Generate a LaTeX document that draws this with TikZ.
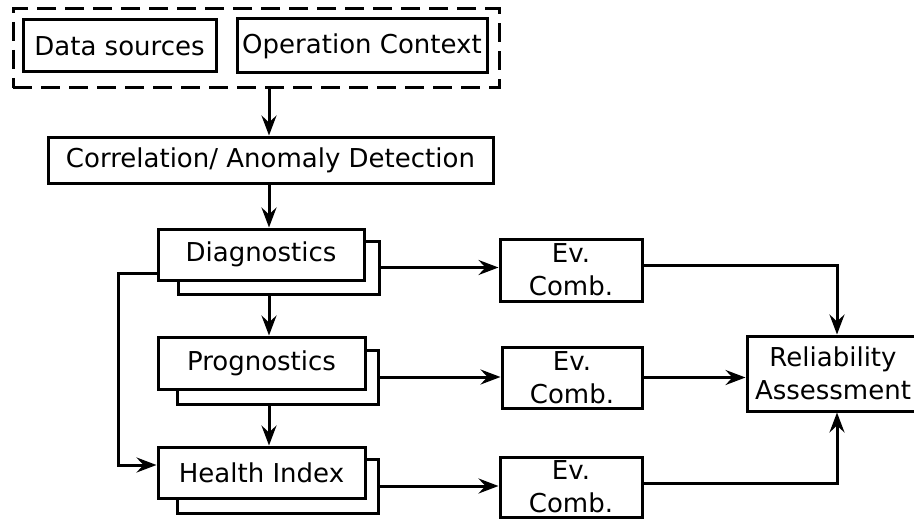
\documentclass[tikz,border=0pt]{standalone}
\usepackage{fontspec}
\setmainfont{DejaVu Sans}
\usetikzlibrary{arrows.meta}
\begin{document}
\begin{tikzpicture}[x=1pt,y=-1pt,
  every node/.style={font=\fontsize{26}{33}\selectfont},
  box/.style={draw=black, line width=3pt, fill=white, inner sep=0pt, align=center},
  grpbox/.style={draw=black, line width=3pt, dash pattern=on 19pt off 9pt, inner sep=0pt},
  arr/.style={draw=black, line width=3pt, -{Stealth[length=20pt,width=15pt,inset=7pt]}},
  line/.style={draw=black, line width=3pt}]
\useasboundingbox (0,0) rectangle (914,519);
\begin{scope}
\clip (0,0) rectangle (914,519);
% group
\node[grpbox, minimum width=486pt, minimum height=79pt] (grp) at (256,48.5) {};
\node[box, minimum width=193pt, minimum height=52pt] (ds) at (119.5,46) {Data sources};
\node[box, minimum width=250pt, minimum height=54pt] (oc) at (362,46) {Operation Context};
% correlation
\node[box, minimum width=445pt, minimum height=46pt] (corr) at (270.5,160) {Correlation/ Anomaly Detection};
% stacked boxes
\node[box, minimum width=201pt, minimum height=53pt] (diagB) at (278.5,267.5) {};
\node[box, minimum width=206pt, minimum height=51pt] (diag) at (261,254.5) {Diagnostics};
\node[box, minimum width=201pt, minimum height=54pt] (progB) at (277.5,377) {};
\node[box, minimum width=207pt, minimum height=52pt] (prog) at (261.5,363) {Prognostics};
\node[box, minimum width=201pt, minimum height=54pt] (healthB) at (277.5,486) {};
\node[box, minimum width=207pt, minimum height=51pt] (health) at (261.5,472.5) {Health Index};
% evidence combination
\node[box, minimum width=142pt, minimum height=62pt] (ev1) at (571,270) {Ev.\\Comb.};
\node[box, minimum width=140pt, minimum height=61pt] (ev2) at (572,377.5) {Ev.\\Comb.};
\node[box, minimum width=142pt, minimum height=60pt] (ev3) at (571,487) {Ev.\\Comb.};
% reliability
\node[box, minimum width=172pt, minimum height=75pt] (rel) at (833,373.5) {Reliability\\Assessment};
% helper coordinates
\coordinate (vx) at (269,0);
\coordinate (rx) at (837,0);
\coordinate (fb) at (118,465);
% connectors
\draw[arr] (grp.south -| vx) -- (corr.north -| vx);
\draw[arr] (corr.south -| vx) -- (diag.north -| vx);
\draw[arr] (diagB.south -| vx) -- (prog.north -| vx);
\draw[arr] (progB.south -| vx) -- (health.north -| vx);
\draw[arr] ([yshift=-18.5pt]diag.west) -| (fb) -- ([yshift=7.5pt]health.west);
\draw[arr] (diagB.east) -- (diagB.east -| ev1.west);
\draw[arr] (progB.east) -- (progB.east -| ev2.west);
\draw[arr] (healthB.east) -- (healthB.east -| ev3.west);
\draw[arr] ([yshift=5pt]ev1.east) -| (rx |- rel.north);
\draw[arr] (ev2.east) -- (ev2.east -| rel.west);
\draw[arr] ([yshift=4pt]ev3.east) -| (rx |- rel.south);
\end{scope}
\end{tikzpicture}
\end{document}
